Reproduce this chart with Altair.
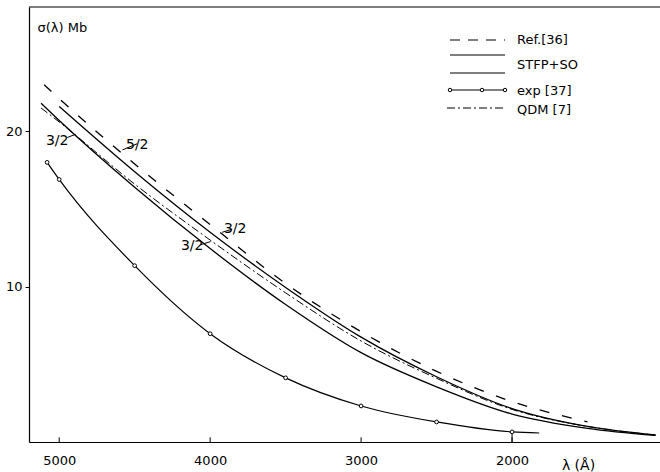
import altair as alt
import pandas as pd

# ---------------- data ----------------
ref_x = [5100, 5000, 4500, 4000, 3500, 3000, 2500, 2000, 1500]
ref_y = [23.0, 22.1, 17.9, 14.0, 10.2, 7.1, 4.55, 2.6, 1.3]

stfp52_x = [5000, 4500, 4000, 3500, 3000, 2500, 2000, 1500, 1050]
stfp52_y = [21.6, 17.4, 13.5, 9.95, 6.75, 4.2, 2.15, 1.0, 0.45]

stfp32_x = [5120, 5000, 4500, 4000, 3500, 3000, 2500, 2000, 1500, 1050]
stfp32_y = [21.8, 20.7, 16.4, 12.45, 8.85, 5.75, 3.55, 1.8, 0.88, 0.42]

qdm_x = [5120, 5000, 4500, 4000, 3500, 3000, 2500, 2000, 1500, 1050]
qdm_y = [21.5, 20.6, 16.6, 13.0, 9.6, 6.5, 4.1, 2.1, 1.0, 0.45]

exp_x = [5080, 5000, 4500, 4000, 3500, 3000, 2500, 2000]
exp_y = [18.0, 16.9, 11.35, 6.97, 4.13, 2.32, 1.29, 0.65]
exp_tail_x = [1820]
exp_tail_y = [0.58]

x_ticks = [5000, 4000, 3000, 2000]
y_ticks = [10, 20]

# curve annotations (label, text position, leader start, leader end)
ann_text = ["3/2", "5/2", "3/2", "3/2"]
ann_tx = [5013, 4483, 3834, 4119]
ann_ty = [19.4, 19.1, 13.7, 12.6]
ann_x1 = [4947, 4581, 3920, 4063]
ann_y1 = [19.6, 18.8, 13.5, 12.7]
ann_x2 = [4893, 4483, 3854, 3997]
ann_y2 = [19.8, 19.2, 13.7, 12.9]

FONT = "DejaVu Sans"
XDOM = [1020, 5200]
YDOM = [0, 28]
TICK_LEN = 0.3   # inward x tick length in y units

xs = alt.Scale(domain=XDOM, reverse=True, nice=False, zero=False)
ys = alt.Scale(domain=YDOM, nice=False, zero=False)

def df(x, y):
    return pd.DataFrame({"x": x, "y": y})

XA = alt.Axis(
    values=x_ticks, format="d", title="λ (Å)", grid=False,
    domainColor="black", domainWidth=1.2, ticks=False,
    labelFont=FONT, labelFontSize=13,
    labelColor="black", labelPadding=12, labelFlush=False,
    titleFont=FONT, titleFontSize=14, titleFontWeight="normal",
    titleColor="black", titleX=549, titleY=27, titleAlign="center",
    titleBaseline="alphabetic")
YA = alt.Axis(
    values=y_ticks, format="d", title="σ(λ)  Mb", grid=False,
    domainColor="black", domainWidth=1.2, tickColor="black",
    tickSize=4, tickWidth=1, labelFont=FONT, labelFontSize=13,
    labelColor="black", labelPadding=3,
    titleFont=FONT, titleFontSize=13, titleFontWeight="normal",
    titleColor="black", titleAngle=0, titleX=8, titleY=24,
    titleAlign="left", titleBaseline="alphabetic")

X = alt.X("x:Q", scale=xs, axis=XA)
Y = alt.Y("y:Q", scale=ys, axis=YA)

def curve(x, y, dash=None, width=1.3):
    kw = dict(color="black", strokeWidth=width, interpolate="monotone", clip=True)
    if dash:
        kw["strokeDash"] = dash
    return alt.Chart(df(x, y)).mark_line(**kw).encode(x=X, y=Y)

ref_line = curve(ref_x, ref_y, dash=[10, 13])
s52_line = curve(stfp52_x, stfp52_y)
s32_line = curve(stfp32_x, stfp32_y)
qdm_line = curve(qdm_x, qdm_y, dash=[8, 3, 2, 3], width=1.0)
exp_line = curve(exp_x + exp_tail_x, exp_y + exp_tail_y, width=1.2)
exp_pts = alt.Chart(df(exp_x, exp_y)).mark_point(
    shape="circle", size=14, color="black", fill="white", filled=True,
    stroke="black", strokeWidth=1, opacity=1).encode(x=X, y=Y)

# inward x ticks
xt = alt.Chart(pd.DataFrame({"x": x_ticks, "y": [0] * len(x_ticks),
                             "y2": [TICK_LEN] * len(x_ticks)})).mark_rule(
    color="black", strokeWidth=1).encode(x=X, y=Y, y2="y2:Q")

# drop line from axis to exp point at 2000
drop = alt.Chart(pd.DataFrame({"x": [exp_x[-1]], "y": [0], "y2": [exp_y[-1]]})).mark_rule(
    color="black", strokeWidth=1).encode(x=X, y=Y, y2="y2:Q")

# top frame line
top = alt.Chart(pd.DataFrame({"y": [YDOM[1]]})).mark_rule(
    color="black", strokeWidth=1.2).encode(y=Y, x=alt.value(0), x2=alt.value(640))

ann = pd.DataFrame({"t": ann_text, "x": ann_tx, "y": ann_ty})
ann_txt = alt.Chart(ann).mark_text(font=FONT, fontSize=14, color="black").encode(
    x=X, y=Y, text="t:N")
lead_rows = []
for i in range(len(ann_text)):
    lead_rows.append({"id": i, "o": 0, "x": ann_x1[i], "y": ann_y1[i]})
    lead_rows.append({"id": i, "o": 1, "x": ann_x2[i], "y": ann_y2[i]})
ann_lead = alt.Chart(pd.DataFrame(lead_rows)).mark_line(
    color="black", strokeWidth=1).encode(x=X, y=Y, detail="id:N", order="o:Q")

# ---------------- manual legend ----------------
leg_names = ["Ref.[36]", "STFP+SO", "exp [37]", "QDM [7]"]
LX0, LX1, LTX = 421, 476, 488   # relative to plot origin
one = pd.DataFrame({"a": [0]})
leg_ref = alt.Chart(one).mark_rule(
    color="black", strokeWidth=1.2, strokeDash=[10, 8]).encode(
    x=alt.value(LX0), x2=alt.value(LX1), y=alt.value(33))
leg_s1 = alt.Chart(one).mark_rule(color="black", strokeWidth=1.2).encode(
    x=alt.value(LX0), x2=alt.value(LX1), y=alt.value(48))
leg_s2 = alt.Chart(one).mark_rule(color="black", strokeWidth=1.2).encode(
    x=alt.value(LX0), x2=alt.value(LX1), y=alt.value(66))
leg_e = alt.Chart(one).mark_rule(color="black", strokeWidth=1).encode(
    x=alt.value(LX0), x2=alt.value(LX1), y=alt.value(83))
leg_ept = alt.Chart(pd.DataFrame({"px": [LX0, 453, LX1]})).mark_point(
    shape="circle", size=12, color="black", fill="white", filled=True,
    stroke="black", strokeWidth=1, opacity=1).encode(
    x=alt.X("px:Q", scale=None), y=alt.value(83))
leg_q = alt.Chart(one).mark_rule(
    color="black", strokeWidth=1, strokeDash=[8, 3, 2, 3]).encode(
    x=alt.value(LX0 - 3), x2=alt.value(LX1), y=alt.value(101))
leg_txt = alt.Chart(pd.DataFrame({"t": leg_names, "py": [33, 58, 84, 103]})).mark_text(
    font=FONT, fontSize=13, color="black", align="left", baseline="middle").encode(
    x=alt.value(LTX), y=alt.Y("py:Q", scale=None), text="t:N")

chart = alt.layer(
    xt, top, drop, ref_line, s52_line, s32_line, qdm_line, exp_line, exp_pts,
    ann_lead, ann_txt,
    leg_ref, leg_s1, leg_s2, leg_e, leg_ept, leg_q, leg_txt
).properties(
    width=631, height=435,
    autosize=alt.AutoSizeParams(type="none"),
    padding={"left": 29, "top": 7, "right": 0, "bottom": 30},
    background="white"
).configure_view(stroke=None)

chart.save("out.html", embed_options={"renderer": "svg", "actions": False})
